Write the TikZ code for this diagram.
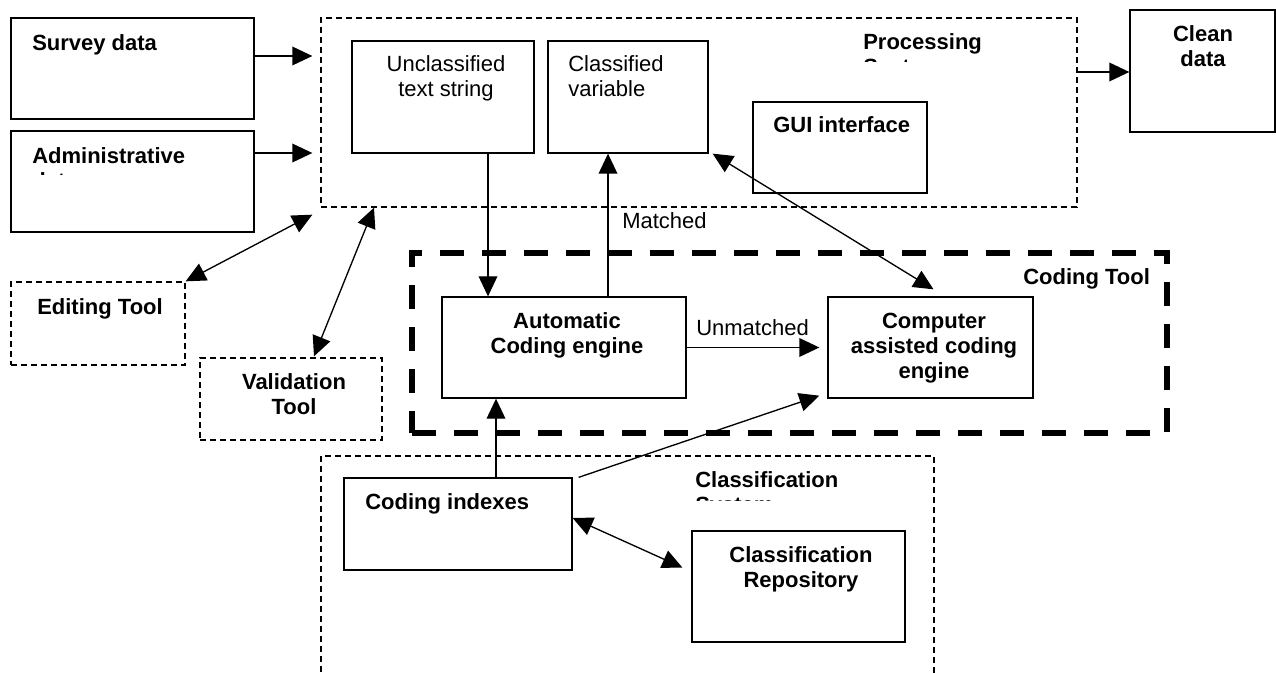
\documentclass[tikz,border=0pt]{standalone}
\usepackage{fontspec}
\setmainfont{Liberation Sans}
\usetikzlibrary{arrows.meta,calc}

\newcommand{\diafont}{\fontsize{16.5}{18.75}\selectfont}

\tikzset{
    box/.style 2 args={draw, line width=1pt, minimum width=#1*0.75pt, minimum height=#2*0.75pt, inner sep=0pt},
    dbox/.style 2 args={box={#1}{#2}, dash pattern=on 4.5pt off 3pt},
    tbox/.style 2 args={box={#1}{#2}, line width=4.5pt, dash pattern=on 18pt off 13.5pt},
    lbl/.style={font=\diafont\bfseries, inner sep=0pt},
    txt/.style={font=\diafont, inner sep=0pt},
    arr/.style={line width=1pt, -{Triangle[length=15pt,width=14pt]}},
    darr/.style={line width=1pt, {Triangle[length=15pt,width=14pt]}-{Triangle[length=15pt,width=14pt]}},
}

\begin{document}
\begin{tikzpicture}[x=0.75pt, y=-0.75pt]
    \useasboundingbox (0,0) rectangle (1276,673);

    % Data sources
    \node[box={243}{101}] (survey) at (132.5,68.5) {};
    \node[box={243}{101}] (admin) at (132.5,181.5) {};
    \node[lbl, anchor=base west] (surveyT) at (32,51) {Survey data};
    \begin{scope}
        \clip (15,135) rectangle (250,175);
        \node[lbl, anchor=base west, align=left] (adminT) at (32,189) {Administrative\\data};
    \end{scope}

    % Processing system
    \node[dbox={756}{189}] (proc) at (699,112.5) {};
    \node[box={182}{112}] (uncl) at (443,97) {};
    \node[box={160}{112}] (clsv) at (628,97) {};
    \node[box={174}{91}] (gui) at (840,147.5) {};
    \node[txt, anchor=base, align=center] (unclT) at (446,97) {Unclassified\\text string};
    \node[txt, anchor=base west, align=left] (clsvT) at (568,97) {Classified\\variable};
    \node[lbl, anchor=base west] (guiT) at (773,133) {GUI interface};
    \begin{scope}
        \clip (850,25) rectangle (1000,62);
        \node[lbl, anchor=base west, align=left] (procT) at (863,75) {Processing\\System};
    \end{scope}

    % Output
    \node[box={145}{122}] (clean) at (1202.5,71) {};
    \node[lbl, anchor=base, align=center] (cleanT) at (1203,67) {Clean\\data};

    % Tools on the left
    \node[dbox={174}{83}] (edit) at (98,323.5) {};
    \node[dbox={182}{82}] (valid) at (291,399) {};
    \node[lbl, anchor=base west] (editT) at (37,315) {Editing Tool};
    \node[lbl, anchor=base, align=center] (validT) at (294,414) {Validation\\Tool};

    % Coding tool
    \node[tbox={755}{180}] (coding) at (789.5,343) {};
    \node[box={244}{101}] (auto) at (564,347.5) {};
    \node[box={205}{101}] (comp) at (930.5,347.5) {};
    \node[lbl, anchor=base west] (codingT) at (1023,285) {Coding Tool};
    \node[lbl, anchor=base, align=center] (autoT) at (567,353) {Automatic\\Coding engine};
    \node[lbl, anchor=base, align=center] (compT) at (934,378) {Computer\\assisted coding\\engine};

    % Classification system
    \node[dbox={613}{244}] (clsys) at (627.5,578) {};
    \node[box={228}{92}] (idx) at (458,524) {};
    \node[box={213}{111}] (repo) at (798.5,586.5) {};
    \node[lbl, anchor=base west] (idxT) at (365,509) {Coding indexes};
    \node[lbl, anchor=base, align=center] (repoT) at (801,587) {Classification\\Repository};
    \begin{scope}
        \clip (680,462) rectangle (880,500);
        \node[lbl, anchor=base west, align=left] (clsysT) at (695,512) {Classification\\System};
    \end{scope}

    % Connectors
    \draw[arr, shorten >=6pt] (survey.east |- 0,56) -- (proc.west |- 0,56);
    \draw[arr, shorten >=6pt] (admin.east |- 0,153) -- (proc.west |- 0,153);
    \draw[arr] (proc.east |- 0,72) -- (clean.west |- 0,72);
    \draw[arr] (uncl.south -| 488,0) -- (auto.north -| 488,0);
    \draw[arr] (auto.north -| 608,0) -- (clsv.south -| 608,0);
    \node[txt, anchor=base west] (matchT) at (622,229) {Matched};
    \draw[darr] ($(clsv.south east)+(4,0)$) -- ($(comp.north)+(3,-7)$);
    \draw[arr, shorten >=6pt] (auto.east) -- (comp.west);
    \node[txt, anchor=base west] (unmT) at (696,335) {Unmatched};
    \draw[arr] (idx.north -| 496,0) -- (auto.south -| 496,0);
    \draw[arr] ($(idx.north east)+(6,0)$) -- ($(comp.south west)+(-8,-3)$);
    \draw[darr] ($(idx.east)+(0,-6)$) -- ($(repo.west)+(-9,-19)$);
    \draw[darr] (edit.north east) -- ($(proc.south west)+(-8,7)$);
    \draw[darr] ($(valid.north)+(23,-1)$) -- (proc.south -| 374,0);
\end{tikzpicture}
\end{document}
